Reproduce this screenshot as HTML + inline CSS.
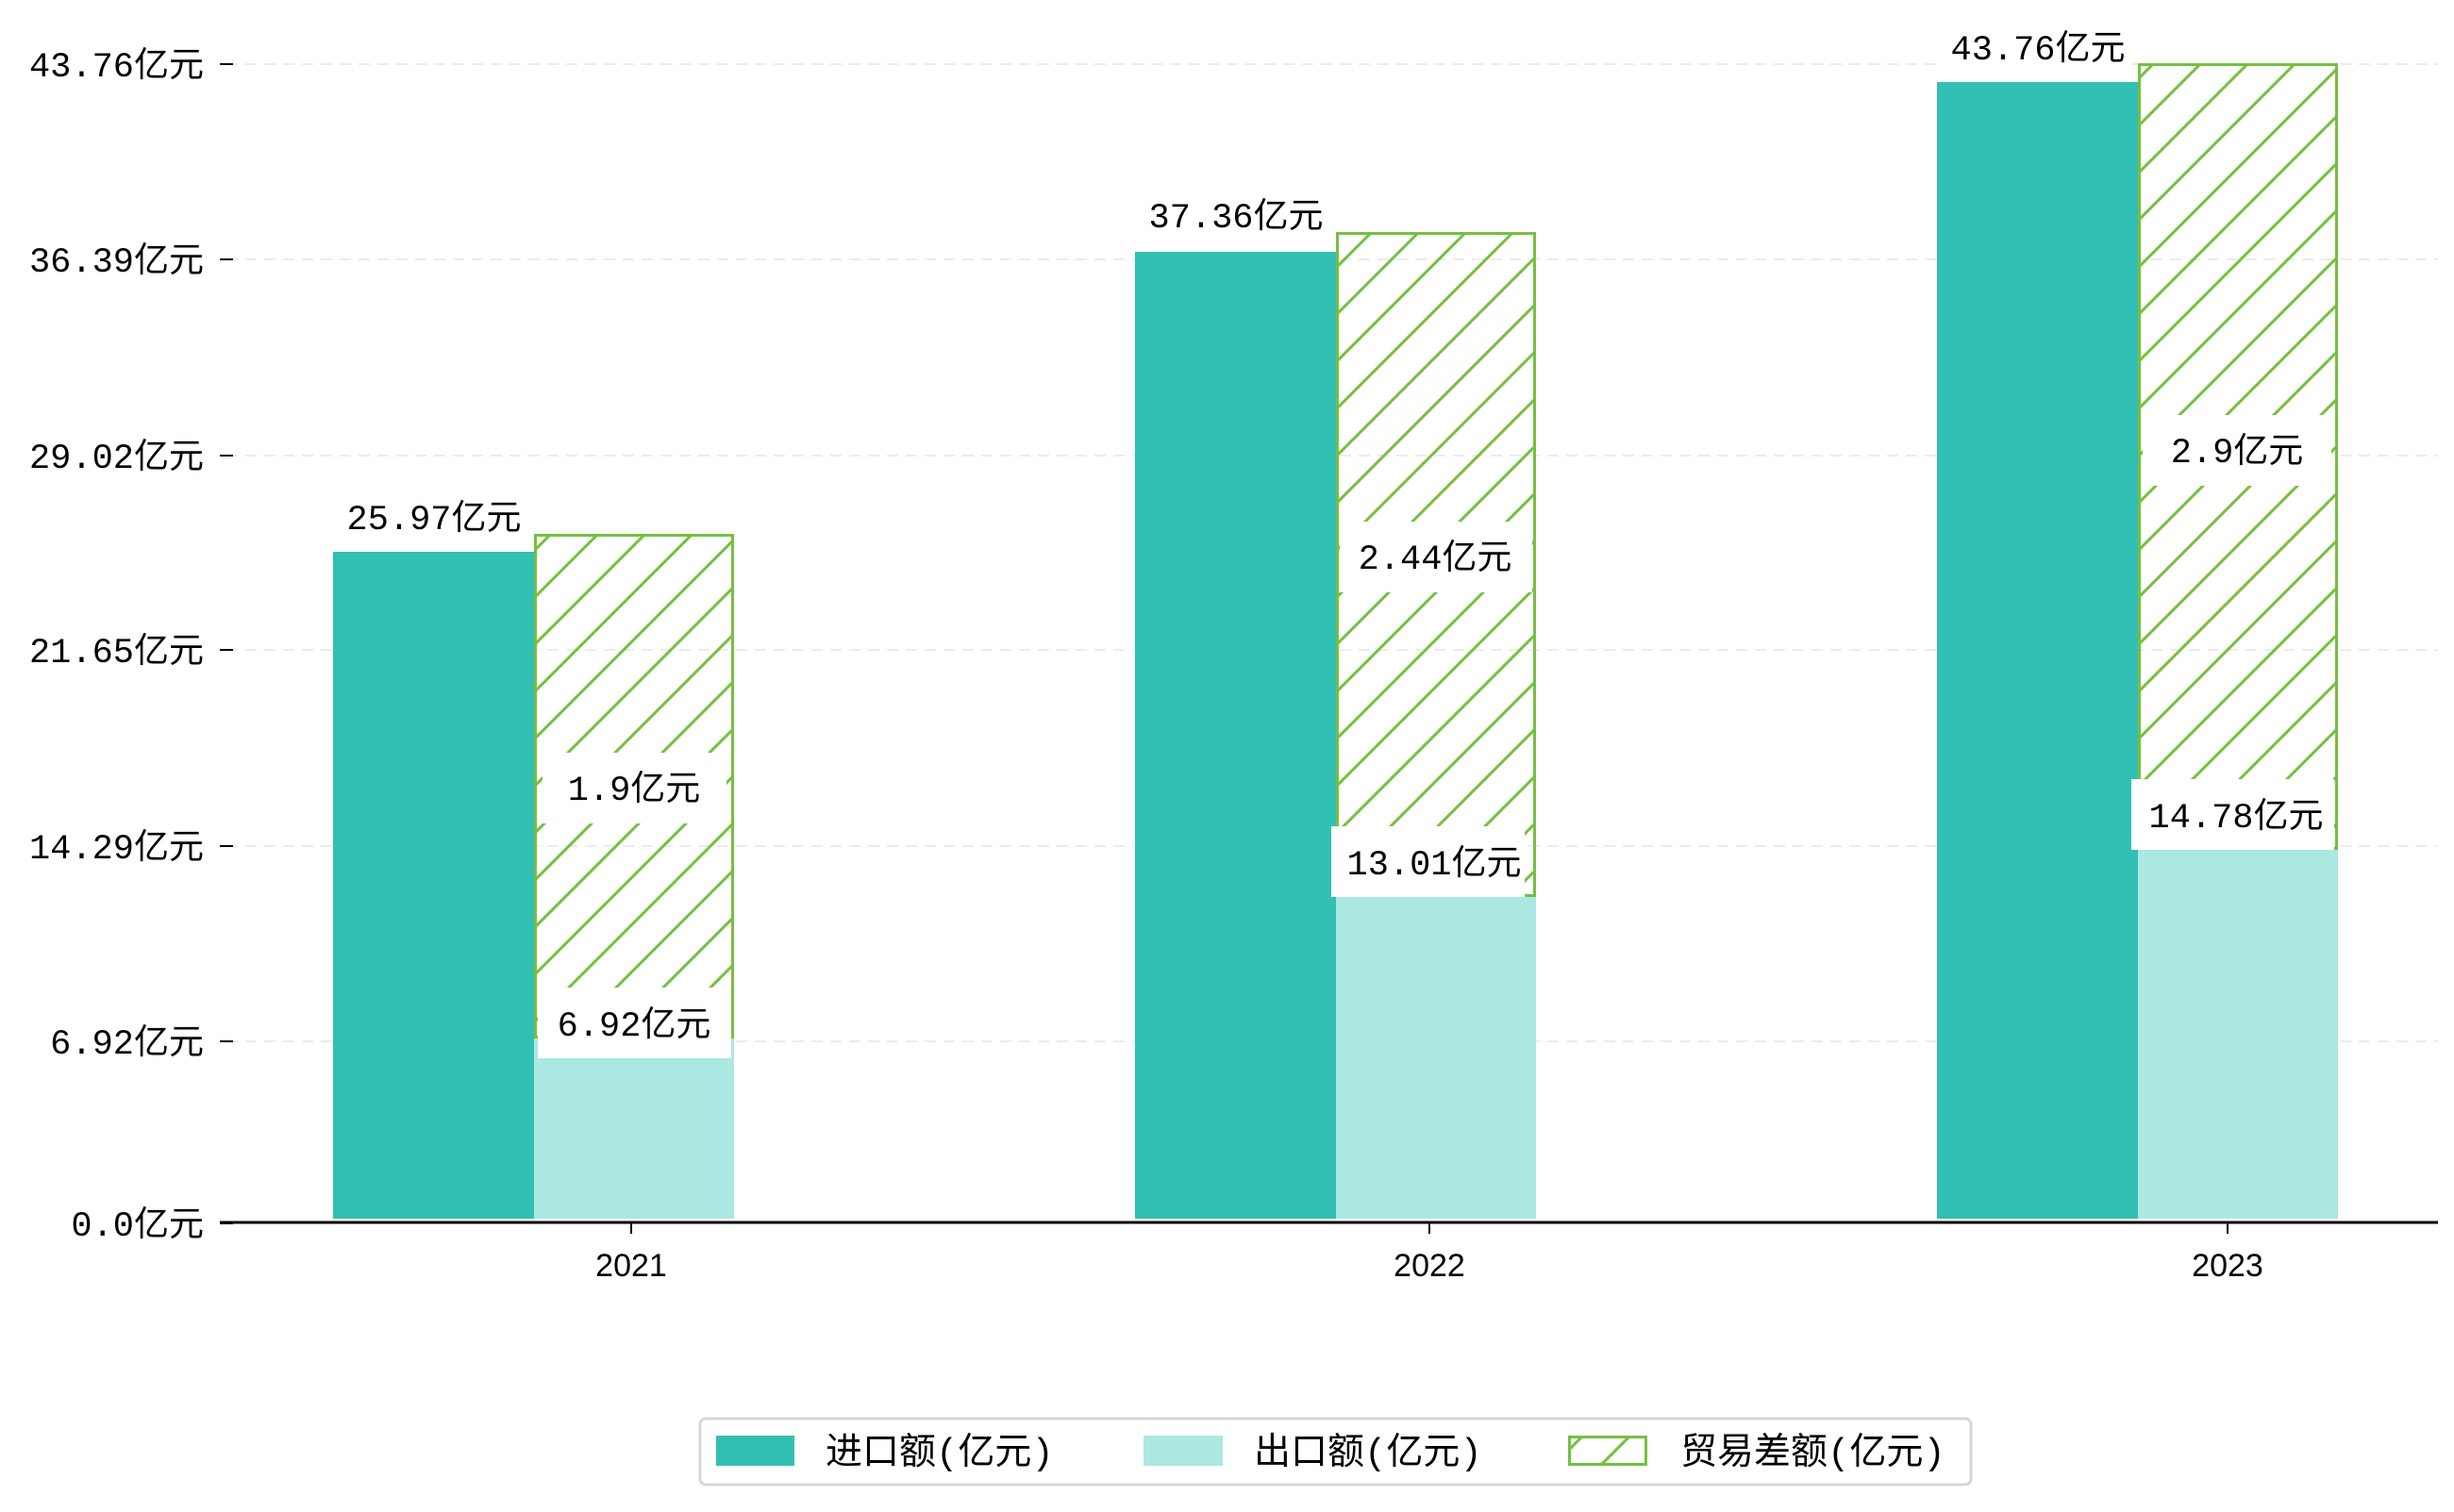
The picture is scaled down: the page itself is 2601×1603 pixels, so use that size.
<!DOCTYPE html>
<html><head><meta charset="utf-8"><style>
html,body{margin:0;padding:0;background:#fff;}
svg text{font-family:"Liberation Mono","Noto Sans CJK SC",monospace;fill:#000;}
</style></head><body>
<svg width="2601" height="1598" viewBox="0 0 2601 1598" xmlns="http://www.w3.org/2000/svg">
<defs>
<pattern id="h" patternUnits="userSpaceOnUse" width="50" height="50">
<path d="M-5,5 L5,-5 M0,50 L50,0 M45,55 L55,45" stroke="#76bf40" stroke-width="3"/>
</pattern>
</defs>
<g stroke="#ececec" stroke-width="2" stroke-dasharray="12,8">
<line x1="240" y1="68" x2="2584" y2="68"/>
<line x1="240" y1="275" x2="2584" y2="275"/>
<line x1="240" y1="483" x2="2584" y2="483"/>
<line x1="240" y1="689" x2="2584" y2="689"/>
<line x1="240" y1="897" x2="2584" y2="897"/>
<line x1="240" y1="1104" x2="2584" y2="1104"/>
</g>
<g stroke="#000" stroke-width="2">
<line x1="233" y1="68" x2="247" y2="68"/>
<line x1="233" y1="275" x2="247" y2="275"/>
<line x1="233" y1="483" x2="247" y2="483"/>
<line x1="233" y1="689" x2="247" y2="689"/>
<line x1="233" y1="897" x2="247" y2="897"/>
<line x1="233" y1="1104" x2="247" y2="1104"/>
<line x1="233" y1="1297" x2="247" y2="1297"/>
</g>
<g font-size="37" text-anchor="end">
<text x="216" y="81">43.76亿元</text>
<text x="216" y="288">36.39亿元</text>
<text x="216" y="496">29.02亿元</text>
<text x="216" y="702">21.65亿元</text>
<text x="216" y="910">14.29亿元</text>
<text x="216" y="1117">6.92亿元</text>
<text x="216" y="1310">0.0亿元</text>
</g>
<rect x="353" y="585" width="213" height="707" fill="#31c0b3"/>
<rect x="566" y="1100" width="212" height="192" fill="#abe8e2"/>
<rect x="567.5" y="567.5" width="209" height="532" fill="url(#h)" stroke="#76bf40" stroke-width="3"/>
<rect x="1203" y="267" width="213" height="1025" fill="#31c0b3"/>
<rect x="1416" y="950" width="212" height="342" fill="#abe8e2"/>
<rect x="1417.5" y="247.5" width="209" height="702" fill="url(#h)" stroke="#76bf40" stroke-width="3"/>
<rect x="2053" y="87" width="213" height="1205" fill="#31c0b3"/>
<rect x="2266" y="900" width="212" height="392" fill="#abe8e2"/>
<rect x="2267.5" y="68.5" width="209" height="831" fill="url(#h)" stroke="#76bf40" stroke-width="3"/>
<line x1="233" y1="1296" x2="2584" y2="1296" stroke="#000" stroke-width="3"/>
<g stroke="#000" stroke-width="2">
<line x1="669" y1="1296" x2="669" y2="1308"/>
<line x1="1515" y1="1296" x2="1515" y2="1308"/>
<line x1="2361" y1="1296" x2="2361" y2="1308"/>
</g>
<g font-size="34" text-anchor="middle" style="font-family:'Liberation Sans',sans-serif">
<text x="669" y="1353" style="font-family:'Liberation Sans',sans-serif">2021</text>
<text x="1515" y="1353" style="font-family:'Liberation Sans',sans-serif">2022</text>
<text x="2361" y="1353" style="font-family:'Liberation Sans',sans-serif">2023</text>
</g>
<g fill="#fff">
<rect x="359" y="522" width="200" height="56"/>
<rect x="1209" y="202" width="200" height="56"/>
<rect x="2059" y="24" width="200" height="56"/>
<rect x="570" y="1047" width="205" height="75"/>
<rect x="1411" y="876" width="205" height="75"/>
<rect x="2259" y="826" width="215" height="75"/>
<rect x="575" y="798" width="195" height="75"/>
<rect x="1420" y="553" width="204" height="75"/>
<rect x="2271" y="440" width="200" height="75"/>
</g>
<g font-size="37" text-anchor="middle">
<text x="460" y="561">25.97亿元</text>
<text x="1310" y="241">37.36亿元</text>
<text x="2160" y="63">43.76亿元</text>
<text x="672" y="1098">6.92亿元</text>
<text x="1520" y="927">13.01亿元</text>
<text x="2370" y="877">14.78亿元</text>
<text x="672" y="848">1.9亿元</text>
<text x="1521" y="603">2.44亿元</text>
<text x="2371" y="490">2.9亿元</text>
</g>
<rect x="742" y="1504" width="1347" height="70" rx="6" fill="#fff" stroke="#d6d6d6" stroke-width="3"/>
<rect x="759" y="1522" width="83" height="32" fill="#31c0b3"/>
<rect x="1212" y="1522" width="84" height="32" fill="#abe8e2"/>
<rect x="1663.5" y="1523.5" width="81" height="29" fill="url(#h)" stroke="#76bf40" stroke-width="3"/>
<g font-size="39">
<text x="875" y="1552">进口额(亿元)</text>
<text x="1329" y="1552">出口额(亿元)</text>
<text x="1781" y="1552">贸易差额(亿元)</text>
</g>
</svg>
</body></html>
